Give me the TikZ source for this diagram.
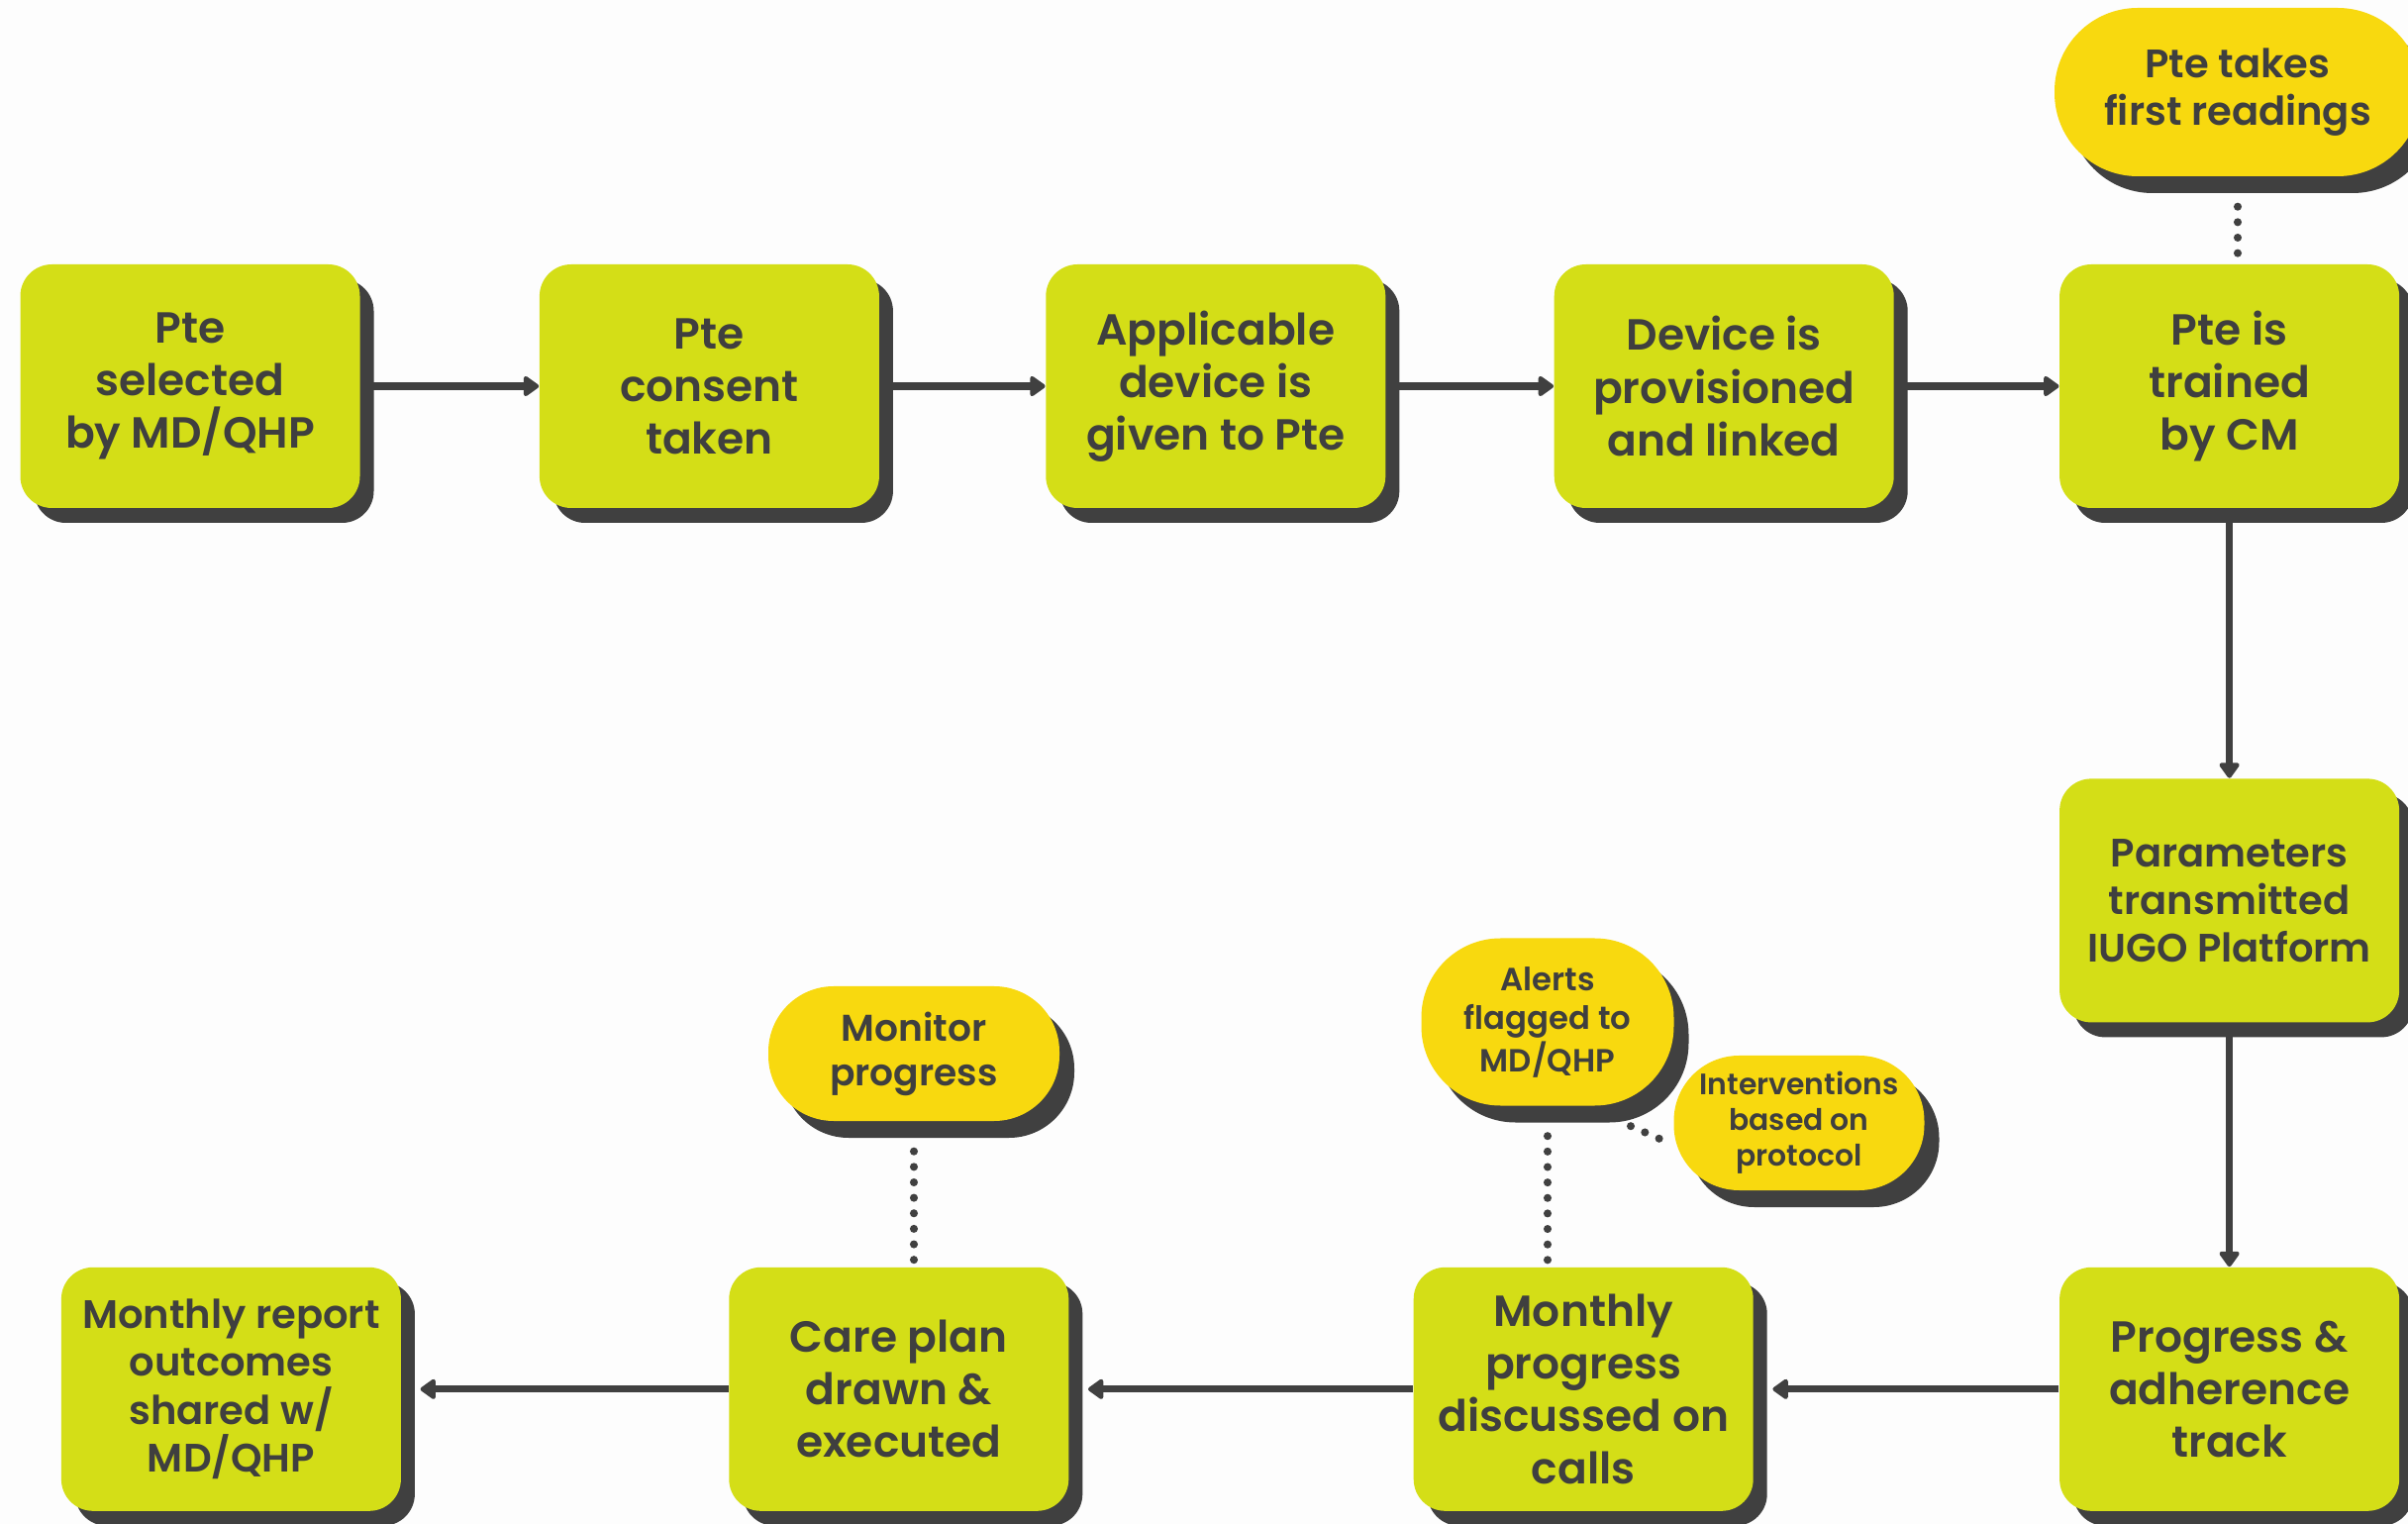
\documentclass[tikz,border=0pt]{standalone}
\usepackage{fontspec}
\setmainfont{Poppins}[BoldFont={Poppins SemiBold}]
\usetikzlibrary{arrows.meta,positioning,shadows,backgrounds}
\definecolor{boxGreen}{HTML}{D4DE17}
\definecolor{pillYellow}{HTML}{F8D90F}
\definecolor{shadowGray}{HTML}{404040}
\definecolor{inkGray}{HTML}{3F3F3F}
\definecolor{paperWhite}{HTML}{FDFDFD}

\begin{document}
\begin{tikzpicture}[
  stepbox/.style={fill=boxGreen, rounded corners=0.32cm, minimum width=3.43cm, minimum height=2.46cm,
    inner sep=0pt, align=center, text=inkGray, font={\fontsize{12.5}{15.1}\selectfont\bfseries},
    drop shadow={shadow xshift=0.14cm, shadow yshift=-0.15cm, fill=shadowGray, opacity=1}},
  smalltext/.style={font={\fontsize{11.4}{13.7}\selectfont\bfseries}},
  notepill/.style={fill=pillYellow, inner sep=0pt, align=center, text=inkGray,
    drop shadow={shadow xshift=0.15cm, shadow yshift=-0.17cm, fill=shadowGray, opacity=1}},
  arr/.style={draw=shadowGray, line width=2pt, -{Triangle[length=0.17cm,width=0.23cm,round]}},
  dotline/.style={draw=shadowGray, line width=2.3pt, line cap=round, dash pattern=on 0pt off 4.45pt}
]
\useasboundingbox (0,0) rectangle (24.32,-15.39);

\node[stepbox] (sel) at (1.92,-3.90) {Pte\\selected\\by MD/QHP};
\node[stepbox, right=1.8cm of sel] (cons) {Pte\\consent\\taken};
\node[stepbox, right=1.67cm of cons] (dev) {Applicable\\device is\\given to Pte};
\node[stepbox, right=1.69cm of dev] (prov) {Device is\\provisioned\\and linked};
\node[stepbox, right=1.66cm of prov] (train) {Pte is\\trained\\by CM};
\node[stepbox, smalltext, below=2.72cm of train] (param) {Parameters\\transmitted\\IUGO Platform};
\node[stepbox, below=2.46cm of param] (track) {Progress \&\\adherence\\track};
\node[stepbox, left=3.08cm of track] (calls) {Monthly\\progress\\discussed on\\calls};
\node[stepbox, left=3.47cm of calls] (plan) {Care plan\\drawn \&\\executed};
\node[stepbox, smalltext, left=3.30cm of plan] (report) {Monthly report\\outcomes\\shared w/\\MD/QHP};

\node[notepill, minimum width=3.7cm, minimum height=1.7cm, rounded corners=0.84cm,
  font={\fontsize{11.4}{13.7}\selectfont\bfseries}] (read) at (22.6,-0.93) {Pte takes\\first readings};
\node[notepill, minimum width=2.94cm, minimum height=1.36cm, rounded corners=0.66cm,
  font={\fontsize{10.7}{12.8}\selectfont\bfseries}] (mon) at (9.23,-10.64) {Monitor\\progress};
\node[notepill, minimum width=2.55cm, minimum height=1.69cm, rounded corners=0.8cm,
  font={\fontsize{9.2}{11.1}\selectfont\bfseries}] (alert) at (15.63,-10.32) {Alerts\\flagged to\\MD/QHP};
\node[notepill, minimum width=2.53cm, minimum height=1.36cm, rounded corners=0.66cm,
  font={\fontsize{8.5}{10.2}\selectfont\bfseries}] (interv) at (18.17,-11.34) {Interventions\\based on\\protocol};

\begin{scope}[on background layer]
\fill[paperWhite] (0,0) rectangle (24.32,-15.39);
\draw[arr] (sel) -- (cons);
\draw[arr] (cons) -- (dev);
\draw[arr] (dev) -- (prov);
\draw[arr] (prov) -- (train);
\draw[arr] (train) -- (param);
\draw[arr] (param) -- (track);
\draw[arr] (track.west) -- ([xshift=0.19cm]calls.east);
\draw[arr] (calls.west) -- ([xshift=0.19cm]plan.east);
\draw[arr] (plan.west) -- ([xshift=0.19cm]report.east);
\draw[dotline] ([yshift=-0.3cm]read.south) -- (read.south |- train.north);
\draw[dotline] ([yshift=-0.3cm]mon.south) -- (mon.south |- plan.north);
\draw[dotline] ([yshift=-0.3cm]alert.south) -- (alert.south |- calls.north);
\draw[dotline] ([xshift=0.84cm,yshift=-0.2cm]alert.south) -- ([yshift=-0.22cm]interv.west);
\end{scope}
\end{tikzpicture}
\end{document}
